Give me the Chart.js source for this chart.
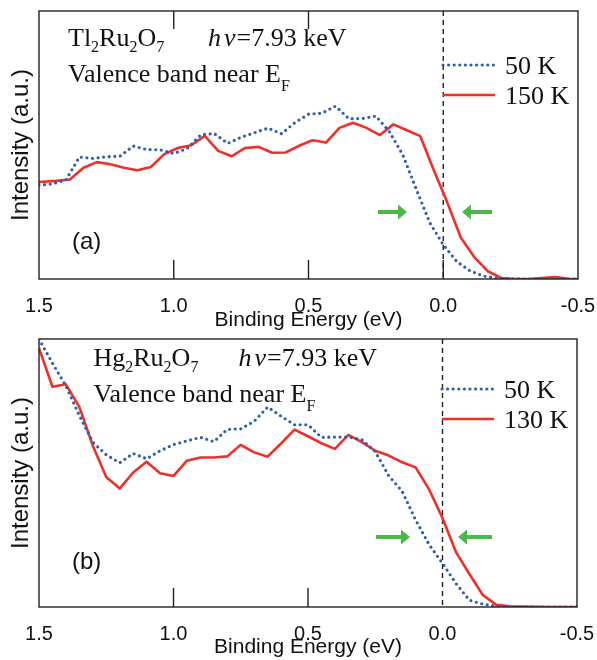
<!DOCTYPE html>
<html>
<head>
<meta charset="utf-8">
<script src="https://cdn.jsdelivr.net/npm/chart.js@4.4.0/dist/chart.umd.min.js"></script>
<style>
  body { margin: 0; background: #fff; }
  #wrap { position: relative; width: 597px; height: 660px; }
  canvas { position: absolute; left: 0; }
</style>
</head>
<body>
<div id="wrap">
  <canvas id="chartA" width="597" height="335" style="top:0"></canvas>
  <canvas id="chartB" width="597" height="325" style="top:335px"></canvas>
</div>
<script>
// binding energy grid (eV), 0.05 steps
const energy = [1.5, 1.45, 1.4, 1.35, 1.3, 1.25, 1.2, 1.15, 1.1, 1.05, 1.0,
    0.95, 0.9, 0.85, 0.8, 0.75, 0.7, 0.65, 0.6, 0.55, 0.5,
    0.45, 0.4, 0.35, 0.3, 0.25, 0.2, 0.15, 0.1, 0.05, 0.0,
    -0.05, -0.1, -0.15, -0.2, -0.25, -0.3, -0.35, -0.4, -0.45, -0.5];
// the 150 K Tl scan sits on a slightly offset grid
const energyTl150 = [1.5, 1.435, 1.385, 1.335, 1.285, 1.235, 1.185, 1.135, 1.085, 1.035,
    0.985, 0.935, 0.885, 0.835, 0.785, 0.735, 0.685, 0.635, 0.585, 0.535,
    0.485, 0.435, 0.385, 0.335, 0.285, 0.235, 0.185, 0.135, 0.085, 0.035,
    -0.015, -0.065, -0.115, -0.165, -0.215, -0.265, -0.315, -0.365, -0.415, -0.465, -0.5];

// Tl2Ru2O7 intensities (a.u.)
const tl50K = [35.0, 35.5, 37.0, 45.5, 45.0, 45.6, 45.8, 49.6, 48.3, 48.2, 46.8,
    48.7, 53.8, 54.3, 50.6, 52.9, 54.6, 56.3, 54.2, 58.4, 61.5,
    61.9, 64.5, 59.8, 59.9, 60.8, 55.0, 46.3, 33.5, 21.0, 12.8,
    6.5, 3.0, 1.1, 0.3, 0.1, 0, 0, 0, 0, 0];
const tl150K = [36.2, 36.6, 37.1, 41.5, 43.6, 42.8, 41.5, 40.6, 41.8, 46.6,
    48.9, 49.9, 53.4, 47.8, 45.8, 48.9, 49.3, 47.1, 47.2, 49.7,
    51.8, 50.9, 56.4, 58.3, 56.4, 53.7, 57.7, 55.5, 53.3, 40.6,
    28.5, 15.5, 8.2, 2.9, 0.4, 0, 0, 0.4, 0.7, 0.1, 0];

// Hg2Ru2O7 intensities (a.u.)
const hg50K = [100, 91.0, 82.5, 71.5, 61.5, 56.8, 53.8, 57.3, 55.3, 58.3, 60.6,
    62.0, 63.3, 61.7, 66.3, 66.5, 69.3, 74.6, 71.2, 68.0, 68.0,
    63.3, 63.4, 63.4, 62.5, 58.0, 49.0, 43.2, 32.5, 23.3, 16.3,
    8.8, 2.5, 1.1, 0.3, 0, 0, 0, 0, 0, 0];
const hg130K = [96.6, 82.2, 83.1, 74.7, 60.2, 48.5, 44.2, 50.2, 54.2, 49.9, 48.9,
    54.6, 55.8, 55.8, 56.2, 60.5, 57.7, 56.1, 61.0, 66.2, 63.7,
    61.1, 59.0, 64.2, 61.5, 58.3, 56.5, 54.0, 52.1, 43.9, 33.2,
    20.5, 12.3, 4.5, 0.8, 0.3, 0.2, 0.1, 0, 0, 0];

const energyTicks = [1.5, 1.0, 0.5, 0.0, -0.5];

const BLUE = '#2d5db4';
const RED = '#ee3026';
const GREEN = '#4cb848';
const SERIF = '"Liberation Serif", "Times New Roman", serif';
const SANS = '"Liberation Sans", Arial, sans-serif';

function pairs(xs, ys) {
    return xs.map((x, i) => ({ x: x, y: ys[i] }));
}

// draws a run of text pieces, some subscript / italic
function richText(ctx, x, y, parts) {
    parts.forEach(p => {
        const size = p.sub ? 16 : 26;
        ctx.font = (p.it ? 'italic ' : '') + size + 'px ' + SERIF;
        ctx.fillText(p.t, x, y + (p.sub || 0));
        x += ctx.measureText(p.t).width + (p.gap || 0);
    });
}

function arrow(ctx, tail, tip, y) {
    const dir = tip > tail ? 1 : -1;
    const base = tip - dir * 9;
    ctx.save();
    ctx.strokeStyle = GREEN;
    ctx.fillStyle = GREEN;
    ctx.lineWidth = 4;
    ctx.beginPath();
    ctx.moveTo(tail, y);
    ctx.lineTo(base, y);
    ctx.stroke();
    ctx.beginPath();
    ctx.moveTo(tip, y);
    ctx.lineTo(base, y - 7.5);
    ctx.lineTo(base, y + 7.5);
    ctx.closePath();
    ctx.fill();
    ctx.restore();
}

// frame, inward ticks, E_F marker, labels, legend and arrows
const panelDecor = {
    id: 'panelDecor',
    beforeDatasetsDraw(chart, args, opts) {
        const { ctx, chartArea: a } = chart;
        const x0 = chart.scales.x.getPixelForValue(0);
        ctx.save();
        ctx.strokeStyle = '#222';
        ctx.lineWidth = 1.4;
        ctx.setLineDash([5, 4]);
        ctx.beginPath();
        ctx.moveTo(x0, a.top);
        ctx.lineTo(x0, a.bottom);
        ctx.stroke();
        ctx.restore();
    },
    afterDatasetsDraw(chart, args, opts) {
        const { ctx, chartArea: a } = chart;
        const sx = chart.scales.x;
        ctx.save();
        ctx.strokeStyle = '#222';
        ctx.lineWidth = 1.4;
        ctx.strokeRect(a.left, a.top, a.right - a.left, a.bottom - a.top);
        ctx.beginPath();
        opts.bottomTicks.forEach(v => {
            const px = sx.getPixelForValue(v);
            ctx.moveTo(px, a.bottom);
            ctx.lineTo(px, a.bottom - 19);
        });
        opts.topTicks.forEach(v => {
            const px = sx.getPixelForValue(v);
            ctx.moveTo(px, a.top);
            ctx.lineTo(px, a.top + 18);
        });
        ctx.stroke();

        // legend
        const lg = opts.legend;
        chart.data.datasets.forEach((ds, i) => {
            const y = lg.y + i * 30;
            ctx.save();
            ctx.strokeStyle = ds.borderColor;
            ctx.lineWidth = ds.borderWidth;
            ctx.lineCap = ds.borderCapStyle || 'butt';
            ctx.setLineDash(ds.borderDash || []);
            ctx.beginPath();
            ctx.moveTo(lg.x, y);
            ctx.lineTo(lg.x + 52, y);
            ctx.stroke();
            ctx.restore();
            ctx.fillStyle = '#111';
            ctx.font = '26px ' + SERIF;
            ctx.fillText(ds.label, lg.x + 62, y + 8.5);
        });

        ctx.fillStyle = '#111';
        richText(ctx, opts.text.x, opts.text.y, opts.compound);
        richText(ctx, opts.text.hx, opts.text.y, [
            { t: 'h', it: true, gap: 3 }, { t: 'ν', it: true, gap: 1 }, { t: '=7.93 keV' }
        ]);
        richText(ctx, opts.text.x, opts.text.y + 36, [
            { t: 'Valence band near E' }, { t: 'F', sub: 9 }
        ]);

        ctx.font = '24px ' + SANS;
        ctx.textBaseline = 'middle';
        ctx.fillText(opts.tag, 72, opts.tagY);

        opts.arrows.forEach(ar => arrow(ctx, ar[0], ar[1], ar[2]));
        ctx.restore();
    }
};

function makePanel(id, sets, decor, layout) {
    return new Chart(document.getElementById(id), {
        type: 'line',
        data: { datasets: sets },
        options: {
            responsive: false,
            animation: false,
            layout: { padding: { top: layout.top, right: layout.right, left: 0, bottom: 0 } },
            elements: { point: { radius: 0 }, line: { tension: 0 } },
            scales: {
                x: {
                    type: 'linear',
                    reverse: true,
                    min: -0.5,
                    max: 1.5,
                    grid: { display: false },
                    border: { display: false },
                    afterBuildTicks: scale => { scale.ticks = energyTicks.map(v => ({ value: v })); },
                    afterFit: scale => {
                        scale.height = layout.xHeight;
                        // end labels may hang past the frame
                        scale.paddingLeft = 0;
                        scale.paddingRight = 0;
                    },
                    ticks: {
                        autoSkip: false,
                        maxRotation: 0,
                        padding: 7,
                        color: '#111',
                        font: { family: SANS, size: 20 },
                        callback: v => v.toFixed(1)
                    },
                    title: {
                        display: true,
                        text: 'Binding Energy (eV)',
                        color: '#111',
                        font: { family: SANS, size: 21 },
                        padding: { top: 0, bottom: layout.titlePad }
                    }
                },
                y: {
                    min: 0,
                    max: 100,
                    grid: { display: false },
                    border: { display: false },
                    ticks: { display: false },
                    afterFit: scale => { scale.width = 39; },
                    title: {
                        display: true,
                        text: 'Intensity (a.u.)',
                        color: '#111',
                        font: { family: SANS, size: 24 },
                        padding: { top: 6.6, bottom: 0 }
                    }
                }
            },
            plugins: {
                legend: { display: false },
                tooltip: { enabled: false },
                panelDecor: decor
            }
        },
        plugins: [panelDecor]
    });
}

function dotted(label, xs, ys) {
    return {
        label: label, data: pairs(xs, ys),
        borderColor: BLUE, borderWidth: 3.2,
        borderDash: [0, 5.6], borderCapStyle: 'round', borderJoinStyle: 'round'
    };
}
function solid(label, xs, ys) {
    return {
        label: label, data: pairs(xs, ys),
        borderColor: RED, borderWidth: 2.6, borderJoinStyle: 'round'
    };
}

makePanel('chartA',
    [dotted('50 K', energy, tl50K), solid('150 K', energyTl150, tl150K)],
    {
        bottomTicks: [1.0, 0.5, 0.0], topTicks: [1.0, 0.5],
        legend: { x: 443, y: 65 },
        text: { x: 68, hx: 208, y: 46 },
        compound: [{ t: 'Tl' }, { t: '2', sub: 6 }, { t: 'Ru' }, { t: '2', sub: 6 }, { t: 'O' }, { t: '7', sub: 6 }],
        tag: '(a)', tagY: 242,
        arrows: [[378, 407, 212], [492, 462, 212]]
    },
    { top: 11, right: 19, xHeight: 56, titlePad: 2.4 });

makePanel('chartB',
    [dotted('50 K', energy, hg50K), solid('130 K', energy, hg130K)],
    {
        bottomTicks: [1.0, 0.5], topTicks: [],
        legend: { x: 442, y: 54 },
        text: { x: 93.5, hx: 238.5, y: 31 },
        compound: [{ t: 'Hg' }, { t: '2', sub: 6 }, { t: 'Ru' }, { t: '2', sub: 6 }, { t: 'O' }, { t: '7', sub: 6 }],
        tag: '(b)', tagY: 227,
        arrows: [[376, 410, 202], [492, 458, 202]]
    },
    { top: 4, right: 20, xHeight: 53, titlePad: 0.4 });
</script>
</body>
</html>
